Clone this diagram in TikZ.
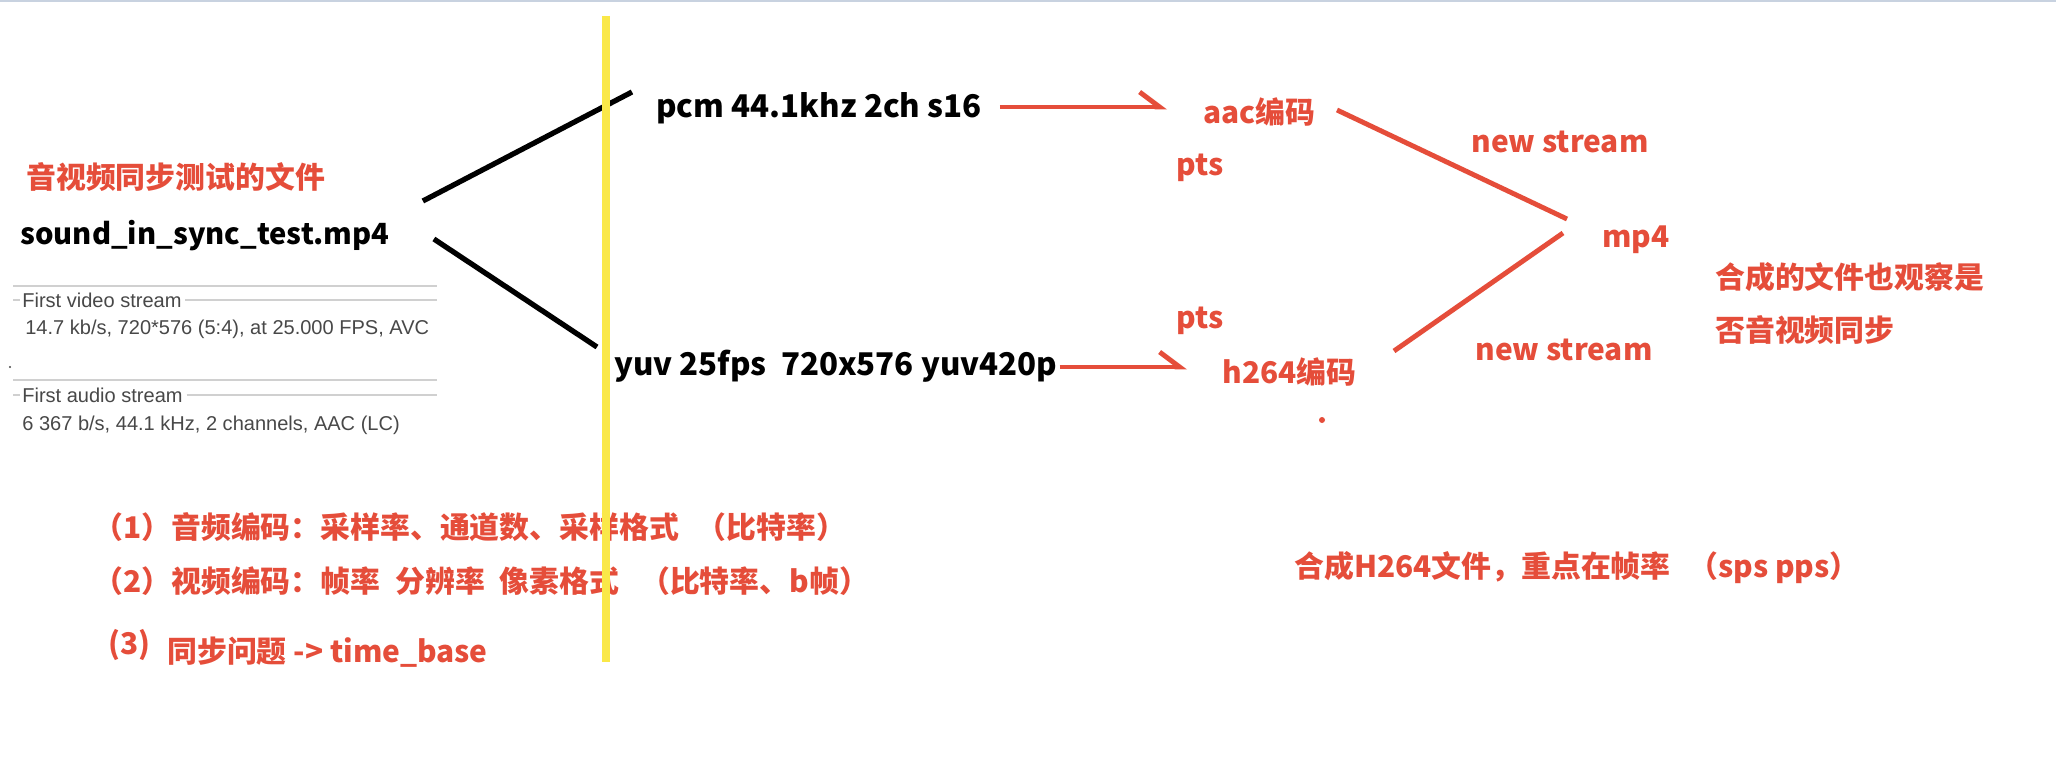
\documentclass[tikz,border=0pt]{standalone}
\usepackage{fontspec}
\newfontfamily\cjk{Noto Sans CJK SC}
\newfontfamily\infofont{Liberation Sans}
\usetikzlibrary{calc, arrows.meta}
\definecolor{notered}{RGB}{229,77,58}
\definecolor{markyellow}{RGB}{250,232,72}
\definecolor{panelgray}{RGB}{208,208,208}
\definecolor{infogray}{RGB}{72,72,72}
\definecolor{edgeblue}{RGB}{200,210,224}

\begin{document}
\begin{tikzpicture}[
		x=0.02cm, y=-0.02cm,
		blacklabel/.style={anchor=west, inner sep=0pt, text=black, font=\cjk\bfseries\fontsize{17.8}{22}\selectfont},
		redlabel/.style={anchor=west, inner sep=0pt, text=notered, font=\cjk\bfseries\fontsize{17}{20}\selectfont},
		infolabel/.style={anchor=west, inner sep=0pt, text=infogray, font=\infofont\fontsize{11.4}{13}\selectfont},
		panelrule/.style={draw=panelgray, line width=0.8pt},
		fork/.style={draw=black, line width=3pt},
		merge/.style={draw=notered, line width=2.8pt},
		feed/.style={draw=notered, line width=2.8pt, -{Straight Barb[harpoon, length=0.4cm, width=0.6cm]}},
		highlighter/.style={draw=markyellow, line width=4pt}
		]
		
		% page
		\fill[white] (0,0) rectangle (2056,770);
		\useasboundingbox (0,0) rectangle (2056,770);
		\draw[edgeblue, line width=0.06cm] (0,1) -- (2056,1);
		
		% 1. Source file and its stream info
		\node[redlabel] (srctitle) at (26,177) {音视频同步测试的文件};
		\node[blacklabel, font=\cjk\bfseries\fontsize{16.6}{20}\selectfont] (src) at (20,236) {sound\_in\_sync\_test.mp4};
		
		\draw[panelrule] (13,286) -- (437,286);
		\node[infolabel] (vidhead) at (22,300) {First video stream};
		\draw[panelrule] (13,300) -- ([xshift=-1pt]vidhead.west);
		\draw[panelrule] ([xshift=2pt]vidhead.east) -- (437,300);
		\node[infolabel] (vidinfo) at (25,329) {14.7 kb/s, 720*576 (5:4), at 25.000 FPS, AVC};
		\fill[infogray] (10,367) circle (1.2);
		
		\draw[panelrule] (13,380) -- (437,380);
		\node[infolabel] (audhead) at (22,395) {First audio stream};
		\draw[panelrule] (13,395) -- ([xshift=-1pt]audhead.west);
		\draw[panelrule] ([xshift=2pt]audhead.east) -- (437,395);
		\node[infolabel] (audinfo) at (22,425) {6 367 b/s, 44.1 kHz, 2 channels, AAC (LC)};
		
		% 2. Decoded raw streams
		\node[blacklabel] (pcm) at (656,108) {pcm 44.1khz 2ch s16};
		\node[blacklabel] (yuv) at (614,366) {yuv 25fps\ \ 720x576 yuv420p};
		
		\draw[fork] ($(src.east)+(33,-35)$) -- ($(pcm.west)+(-24,-16)$);
		\draw[fork] ($(src.east)+(44,3)$) -- ($(yuv.west)+(-17,-19)$);
		
		% 3. Encoders
		\node[redlabel] (aac) at (1203,112) {aac编码};
		\node[redlabel] (ptsaudio) at (1176,168) {pts};
		\node[redlabel] (h264) at (1222,372) {h264编码};
		\node[redlabel] (ptsvideo) at (1176,321) {pts};
		\fill[notered] (1322,420) circle (3);
		
		\draw[feed] ($(pcm.east)+(18,-1)$) -- ($(aac.west)+(-36,-5)$);
		\draw[feed] ($(yuv.east)+(2,1)$) -- ($(h264.west)+(-35,-5)$);
		
		% 4. Muxer
		\node[redlabel] (mp4) at (1602,240) {mp4};
		\node[redlabel] (streamup) at (1471,142) {new stream};
		\node[redlabel] (streamdown) at (1475,350) {new stream};
		\node[redlabel] (checknote) at (1715,277) {合成的文件也观察是};
		\node[redlabel] (checknote2) at (1715,330) {否音视频同步};
		
		\draw[merge] ($(aac.west)+(134,-2)$) -- ($(mp4.west)+(-35,-21)$);
		\draw[merge] ($(h264.west)+(172,-21)$) -- ($(mp4.west)+(-39,-7)$);
		
		% 5. Notes
		\node[redlabel] (noteone) at (93,527) {（1）音频编码：采样率、通道数、采样格式\hspace{0.6em}（比特率）};
		\node[redlabel] (notetwo) at (93,581) {（2）视频编码：帧率\hspace{0.5em}分辨率\hspace{0.5em}像素格式\hspace{0.7em}（比特率、b帧）};
		\node[redlabel] (notethree) at (108,645) {(3)};
		\node[redlabel] (notesync) at (167,652) {同步问题 -> time\_base};
		\node[redlabel] (h264note) at (1294,568) {合成H264文件，重点在帧率\hspace{0.6em}（sps pps）};
		
		% time line marker
		\draw[highlighter] (606,16) -- (606,662);
		
	\end{tikzpicture}
\end{document}
